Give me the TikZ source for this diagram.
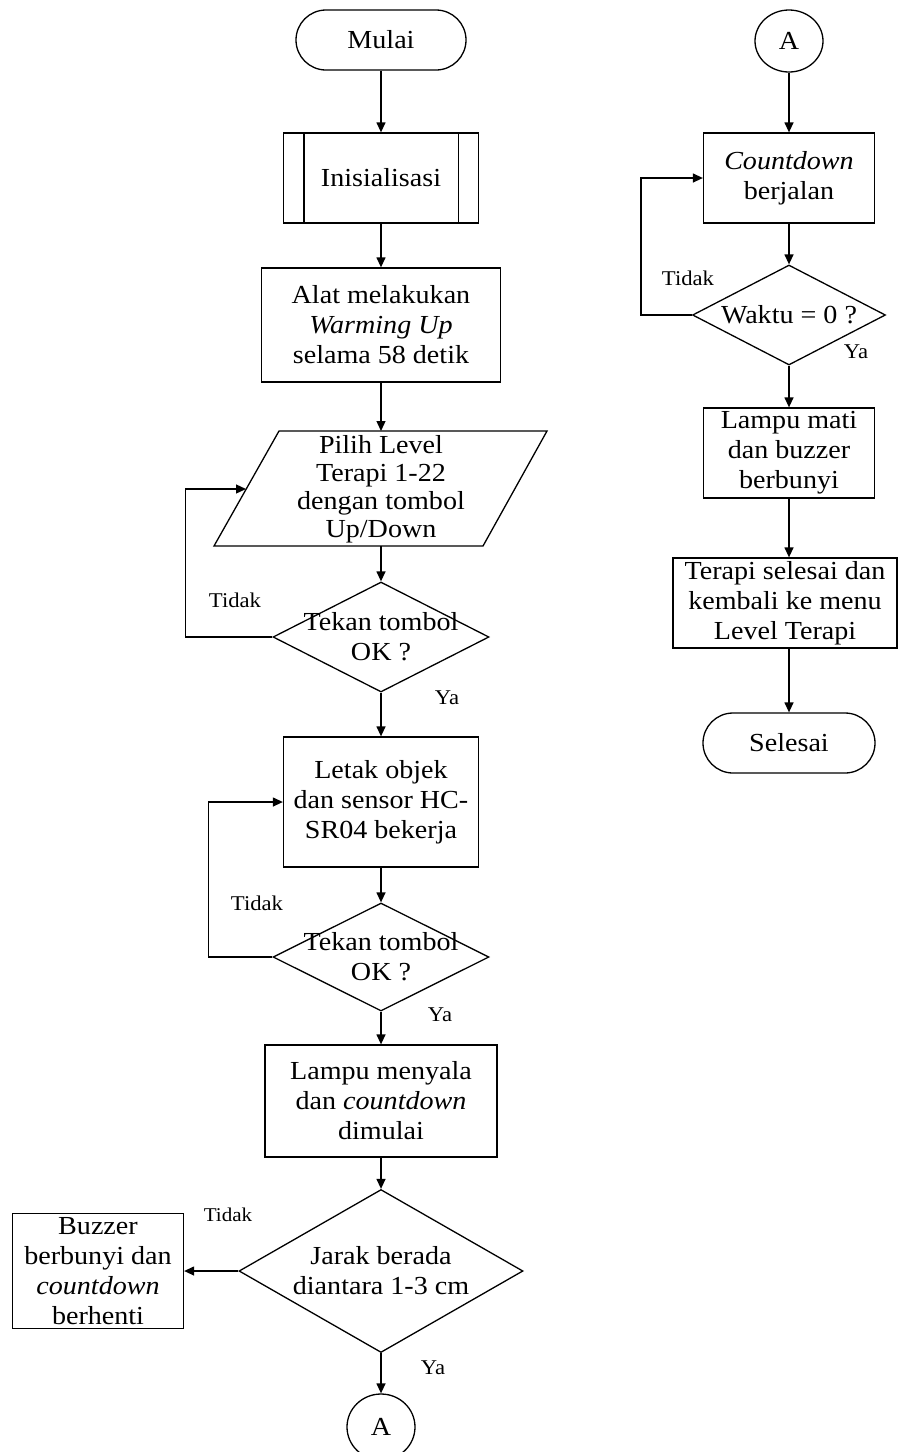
\documentclass[tikz,border=0pt]{standalone}
\usepackage{fontspec}
\setmainfont[FakeStretch=1.08]{Liberation Serif}
\usetikzlibrary{shapes.geometric,shapes.misc,arrows.meta}
\begin{document}
\begin{tikzpicture}[x=1pt,y=-1pt,
  base/.style={draw=black, line width=1.3pt, align=center, inner sep=0pt, font=\fontsize{26}{30}\selectfont},
  term/.style={base, rounded rectangle},
  proc/.style={base, rectangle},
  conn/.style={base, ellipse},
  dia/.style={draw=black, line width=1.3pt, diamond, inner sep=0pt},
  txt/.style={align=center, inner sep=0pt, font=\fontsize{26}{30}\selectfont},
  lbl/.style={inner sep=0pt, font=\fontsize{21}{24}\selectfont},
  slbl/.style={inner sep=0pt, font=\fontsize{19.5}{22}\selectfont},
  shp/.style={draw=black, line width=1.3pt},
  arr/.style={line width=1.3pt, -{Triangle[length=10pt,width=9pt]}}]
\useasboundingbox (0,0) rectangle (898,1452);
\clip (0,0) rectangle (898,1452);

% ---------- left column ----------
\node[term, minimum width=170, minimum height=60] (mulai) at (381,40) {Mulai};
\node[proc, minimum width=195, minimum height=90] (init) at (381,178) {Inisialisasi};
\draw[shp] ([xshift=21pt]init.north west) -- ([xshift=21pt]init.south west);
\draw[shp] ([xshift=-21pt]init.north east) -- ([xshift=-21pt]init.south east);
\node[proc, minimum width=239, minimum height=114] (alat) at (381,325)
  {Alat melakukan\\\textit{Warming Up}\\selama 58 detik};

\draw[shp] (214,546) -- (279,431) -- (547,431) -- (483,546) -- cycle;
\node[txt, font=\fontsize{26}{28}\selectfont] (pilih) at (381,489)
  {Pilih Level\\Terapi 1-22\\dengan tombol\\Up/Down};
\coordinate (pilN) at (381,431);
\coordinate (pilS) at (381,546);
\coordinate (pilW) at (246,489);

\node[dia, minimum width=216, minimum height=110] (d1) at (381,637) {};
\node[txt] (d1t) at (d1.center) {Tekan tombol\\OK ?};

\node[proc, minimum width=195, minimum height=130] (letak) at (381,802)
  {Letak objek\\dan sensor HC-\\SR04 bekerja};

\node[dia, minimum width=216, minimum height=108] (d2) at (381,957) {};
\node[txt] (d2t) at (d2.center) {Tekan tombol\\OK ?};

\node[proc, minimum width=232, minimum height=112] (lampu) at (381,1101)
  {Lampu menyala\\dan \textit{countdown}\\dimulai};

\node[dia, minimum width=284, minimum height=163] (d3) at (381,1271) {};
\node[txt] (d3t) at (d3.center) {Jarak berada\\diantara 1-3 cm};

\node[proc, minimum width=171, minimum height=115] (buzz) at (98,1271)
  {Buzzer\\berbunyi dan\\\textit{countdown}\\berhenti};

\node[conn, minimum width=68, minimum height=66] (a1) at (381,1427) {A};

% ---------- right column ----------
\node[conn, minimum width=68, minimum height=62] (a2) at (789,41) {A};
\node[proc, minimum width=171, minimum height=90] (cd) at (789,178)
  {\textit{Countdown}\\berjalan};
\node[dia, minimum width=193, minimum height=100] (d4) at (789,315) {};
\node[txt] (d4t) at (d4.center) {Waktu = 0 ?};
\node[proc, minimum width=171, minimum height=90] (lm) at (789,453)
  {Lampu mati\\dan buzzer\\berbunyi};
\node[proc, minimum width=224, minimum height=90] (tr) at (785,603)
  {Terapi selesai dan\\kembali ke menu\\Level Terapi};
\node[term, minimum width=172, minimum height=60] (sel) at (789,743) {Selesai};

% ---------- connectors ----------
\draw[arr] (mulai.south) -- (init.north);
\draw[arr] (init.south) -- (alat.north);
\draw[arr] (alat.south) -- (pilN);
\draw[arr] (pilS) -- (d1.north);
\draw[arr] (d1.west) -- ++(-87,0) |- (pilW);
\draw[arr] (d1.south) -- (letak.north);
\draw[arr] (letak.south) -- (d2.north);
\draw[arr] (d2.west) -- ++(-64,0) |- (letak.west);
\draw[arr] (d2.south) -- (lampu.north);
\draw[arr] (lampu.south) -- (d3.north);
\draw[arr] (d3.west) -- (buzz.east);
\draw[arr] (d3.south) -- (a1.north);

\draw[arr] (a2.south) -- (cd.north);
\draw[arr] (cd.south) -- (d4.north);
\draw[arr] (d4.west) -- ++(-51,0) |- (cd.west);
\draw[arr] (d4.south) -- (lm.north);
\draw[arr] (lm.south) -- (lm.south |- tr.north);
\draw[arr] (lm.south |- tr.south) -- (sel.north);

% ---------- labels ----------
\node[lbl] (t1) at (235,600) {Tidak};
\node[lbl] (y1) at (447,698) {Ya};
\node[lbl] (t2) at (257,903) {Tidak};
\node[lbl] (y2) at (440,1015) {Ya};
\node[slbl] (t3) at (228,1215) {Tidak};
\node[lbl] (y3) at (433,1368) {Ya};
\node[lbl] (t4) at (688,278) {Tidak};
\node[lbl] (y4) at (856,352) {Ya};
\end{tikzpicture}
\end{document}
